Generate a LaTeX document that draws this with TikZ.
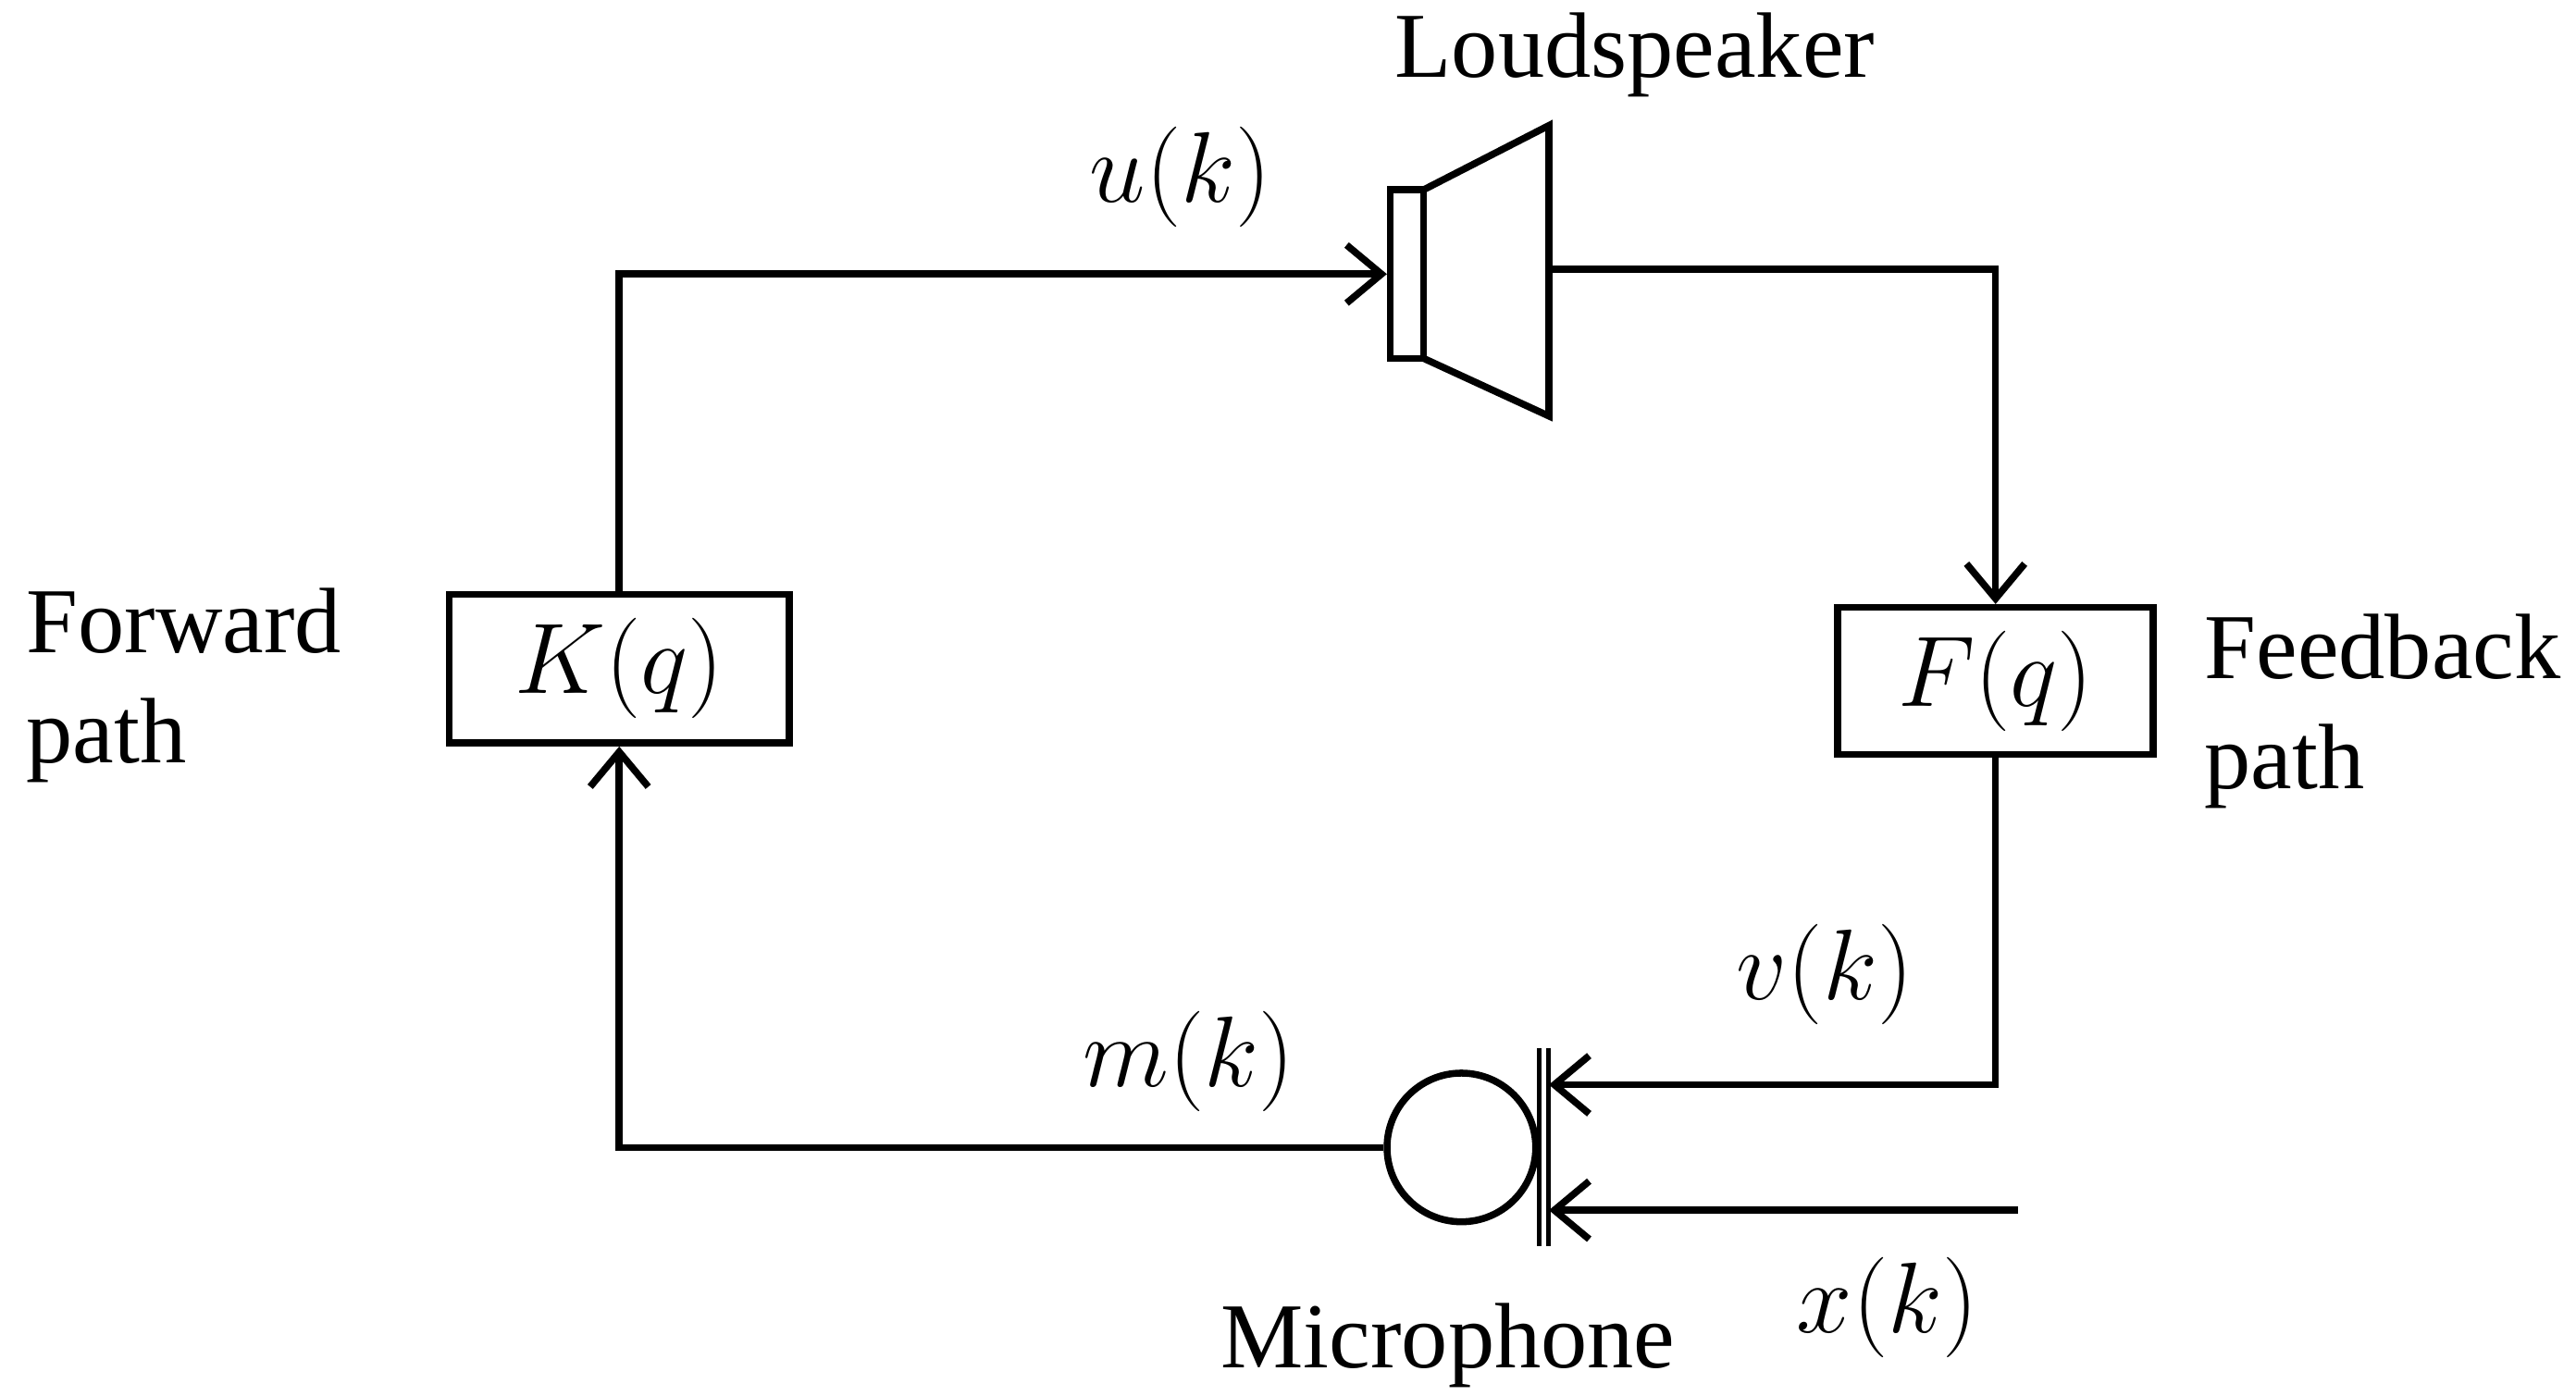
\documentclass[tikz,border=0pt]{standalone}
\usepackage{fontspec}
\setmainfont{Liberation Serif}
\usetikzlibrary{arrows.meta}
\begin{document}
\begin{tikzpicture}[x=0.01cm,y=-0.01cm,line width=1.2pt,
  box/.style={draw,minimum width=2.06cm,minimum height=0.9cm,inner sep=0pt,font=\fontsize{16}{19}\selectfont},
  lbl/.style={font=\fontsize{16}{19}\selectfont,inner sep=0pt},
  arr/.style={-{Straight Barb[length=6pt,width=10pt]}}]
\useasboundingbox (0,0) rectangle (1560,845);
\node[box] (K) at (375,405) {$K(q)$};
\node[box,minimum width=1.91cm,minimum height=0.89cm] (F) at (1208.5,412.5) {$F(q)$};
% loudspeaker
\node[draw,minimum width=0.2cm,minimum height=1.02cm,inner sep=0pt] (spk) at (852,166) {};
\draw (862,115) -- (938,76) -- (938,252) -- (862,217);
\coordinate (spkout) at (938,163);
% microphone
\node[draw,circle,minimum size=0.9cm,inner sep=0pt] (mic) at (885,695) {};
\draw[line width=0.8pt] (932,635) -- (932,755) (938,635) -- (938,755);
\coordinate (vin) at (938,657);
\coordinate (xin) at (938,733);
\coordinate (xsrc) at (1222,733);
% connectors
\draw[arr] (K.north) |- (spk.west);
\draw[arr] (spkout) -| (F.north);
\draw[arr] (F.south) |- (vin);
\draw[arr] (xsrc) -- (xin);
\draw[arr] (mic.west) -| (K.south);
% labels
\node[lbl] (lu) at (715,107) {$u(k)$};
\node[lbl] (ll) at (990,33) {Loudspeaker};
\node[lbl] (lv) at (1105,590) {$v(k)$};
\node[lbl] (lm) at (720,643) {$m(k)$};
\node[lbl] (lx) at (1143,792) {$x(k)$};
\node[lbl] (lmic) at (877,815) {Microphone};
\node[lbl,align=left,anchor=west] (lf) at (14,415) {Forward\\path};
\node[lbl,align=left,anchor=west] (lfb) at (1333,431) {Feedback\\path};
\end{tikzpicture}
\end{document}
